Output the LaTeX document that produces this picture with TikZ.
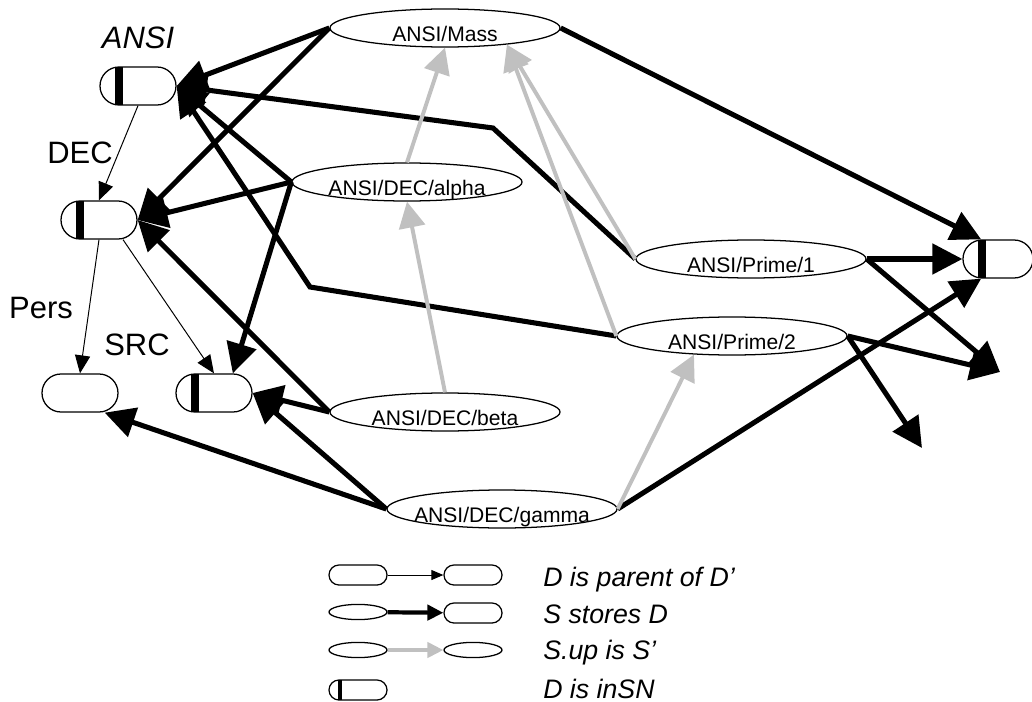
\documentclass[tikz,border=0pt]{standalone}
\usepackage{mathtools}
\usepackage{fontspec}
\setmainfont{Liberation Sans}
\usepackage{tikz}
\usetikzlibrary{shapes.geometric,arrows.meta}
\definecolor{upgray}{RGB}{192,192,192}

\begin{document}
\begin{tikzpicture}[x=0.025cm, y=-0.025cm,
  dom/.style={draw, line width=0.9pt, fill=white, shape=rectangle, rounded corners=0.475cm, minimum width=1.9cm, minimum height=0.95cm, inner sep=0pt},
  legdom/.style={dom, rounded corners=0.25cm, minimum width=1.45cm, minimum height=0.5cm},
  insn/.style 2 args={path picture={\fill[black, sharp corners] ([xshift=#1-#2]path picture bounding box.north west) rectangle ([xshift=#1+#2]path picture bounding box.south west);}},
  store/.style={draw, line width=0.9pt, fill=white, shape=ellipse, minimum width=5.75cm, minimum height=0.95cm, inner sep=0pt, font=\fontsize{15}{18}\selectfont, text height=0.66cm, text depth=0pt},
  legstore/.style={draw, line width=0.9pt, fill=white, shape=ellipse, minimum width=1.45cm, minimum height=0.38cm, inner sep=0pt},
  domlab/.style={inner sep=0pt, font=\fontsize{22}{26}\selectfont},
  legtext/.style={anchor=base west, inner sep=0pt, font=\fontsize{19}{23}\selectfont\itshape},
  parentarr/.style={-{Triangle[length=0.45cm, width=0.38cm]}, line width=0.7pt},
  storesarr/.style={-{Triangle[length=0.75cm, width=0.75cm]}, line width=3.6pt},
  uparr/.style={-{Triangle[length=0.65cm, width=0.65cm]}, line width=2.8pt, color=upgray}]
\useasboundingbox (0,0) rectangle (1032,702);

% domains
\node[dom, insn={0.475cm}{0.1cm}] (ansi) at (138,86) {};
\node[dom, insn={0.475cm}{0.1cm}] (dec) at (99,220) {};
\node[dom] (pers) at (80,393) {};
\node[dom, insn={0.475cm}{0.1cm}] (src) at (214,393) {};
\node[dom, insn={0.475cm}{0.1cm}, minimum width=1.75cm] (rdom) at (998,259) {};
\node[domlab, font=\fontsize{22}{26}\selectfont\itshape] (ansilab) at (138,38) {ANSI};
\node[domlab] (declab) at (80,153) {DEC};
\node[domlab] (perslab) at (41,308) {Pers};
\node[domlab] (srclab) at (137,345) {SRC};

% storage nodes
\node[store] (mass) at (445,28) {\clap{ANSI/Mass}};
\node[store] (alpha) at (407,182) {\clap{ANSI/DEC/alpha}};
\node[store] (beta) at (445,412) {\clap{ANSI/DEC/beta}};
\node[store] (gamma) at (502,509) {\clap{ANSI/DEC/gamma}};
\node[store] (p1) at (751,259) {\clap{ANSI/Prime/1}};
\node[store] (p2) at (732,336) {\clap{ANSI/Prime/2}};

\coordinate (bend1) at (493,128);
\coordinate (bend2) at (310,287);
\coordinate (off1) at (1000,372);
\coordinate (off2) at (922,448);

% parent
\draw[parentarr] (ansi.south) -- (dec.north);
\draw[parentarr] (dec.south) -- (pers.north);
\draw[parentarr] ([xshift=0.6cm]dec.south) -- (src.north);

% stores
\draw[storesarr] (mass.west) -- (ansi.east);
\draw[storesarr] (mass.west) -- (dec.east);
\draw[storesarr] (mass.east) -- ([xshift=0.47cm]rdom.north west);
\draw[storesarr] (alpha.west) -- (ansi.east);
\draw[storesarr] (alpha.west) -- (dec.east);
\draw[storesarr] (alpha.west) -- ([xshift=0.47cm]src.north);
\draw[storesarr] (beta.west) -- (dec.east);
\draw[storesarr] (beta.west) -- (src.east);
\draw[storesarr] (gamma.west) -- (src.east);
\draw[storesarr] (gamma.west) -- ([xshift=-0.35cm]pers.south east);
\draw[storesarr] (gamma.east) -- ([xshift=0.47cm]rdom.south west);
\draw[storesarr] (p1.west) -- (bend1) -- (ansi.east);
\draw[storesarr] (p2.west) -- (bend2) -- (ansi.east);
\draw[storesarr] (p1.east) -- (rdom.west);
\draw[storesarr] (p1.east) -- (off1);
\draw[storesarr] (p2.east) -- (off1);
\draw[storesarr] (p2.east) -- (off2);

% up
\draw[uparr] (alpha.north) -- (mass.south);
\draw[uparr] (beta.north) -- (alpha.south);
\draw[uparr] (p1.west) -- (mass.-15);
\draw[uparr] (p2.west) -- (mass.-15);
\draw[uparr] (gamma.east) -- (p2.206);

% legend
\node[legdom] (ld1) at (358,575) {};
\node[legdom] (ld2) at (473,575) {};
\draw[parentarr, -{Triangle[length=0.3cm, width=0.25cm]}] (ld1) -- (ld2);
\node[legtext] (lt1) at (543,586) {D is parent of D'};
\node[legstore] (ls1) at (358,612) {};
\node[legdom] (ld3) at (473,613) {};
\draw[storesarr, line width=3pt, -{Triangle[length=0.4cm, width=0.38cm]}] (ls1) -- (ld3);
\node[legtext] (lt2) at (543,623) {S stores D};
\node[legstore] (ls2) at (358,650) {};
\node[legstore] (ls3) at (473,650) {};
\draw[uparr, line width=2.6pt, -{Triangle[length=0.4cm, width=0.38cm]}] (ls2) -- (ls3);
\node[legtext] (lt3) at (543,659) {S.up is S'};
\node[legdom, insn={0.275cm}{0.05cm}] (ld4) at (358,690) {};
\node[legtext] (lt4) at (543,698) {D is inSN};
\end{tikzpicture}
\end{document}
